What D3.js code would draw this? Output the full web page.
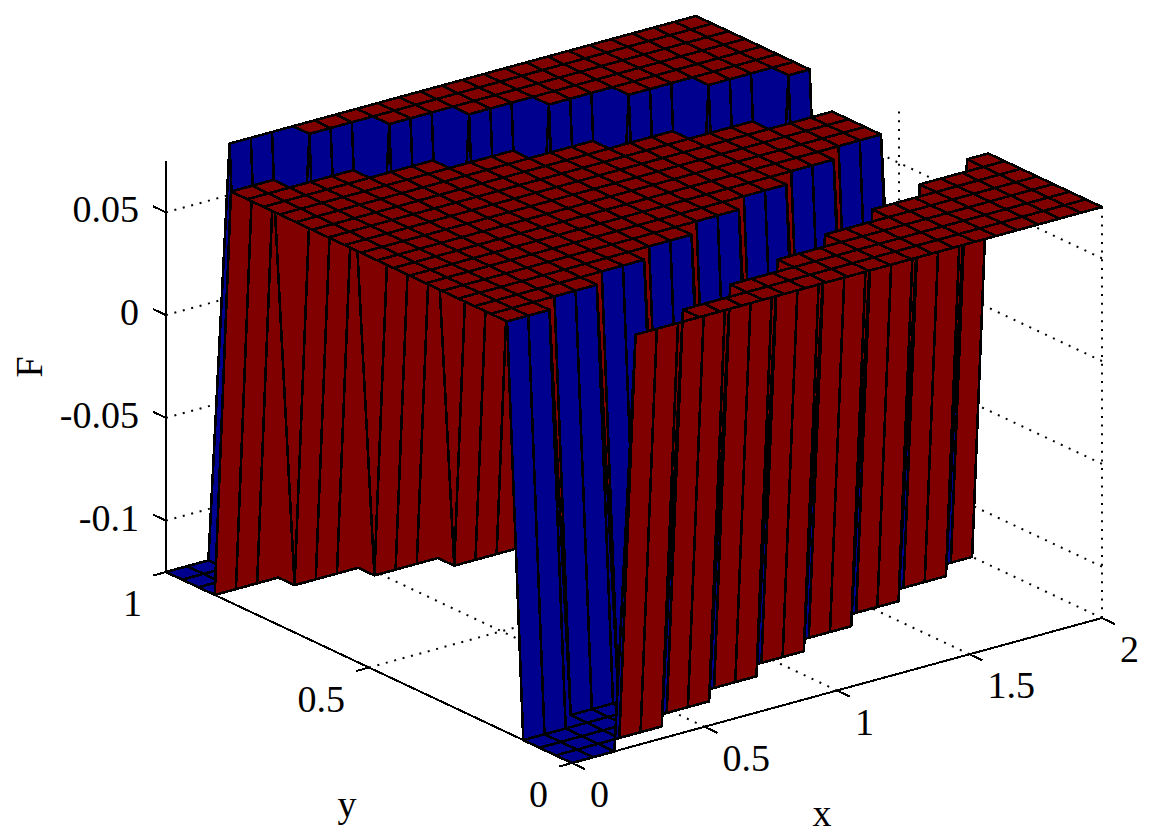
<!DOCTYPE html>
<html lang="en">

<head>
    <meta charset="UTF-8">
    <title>Surface F(x, y)</title>
    <script src="https://d3js.org/d3.v7.min.js"></script>
</head>
<style>
    html,
    body {
        margin: 0;
        padding: 0;
        background: #fff;
    }

    text {
        font-family: "Liberation Serif", "Times New Roman", serif;
        fill: #000;
    }
</style>

<body>
    <div id="chart"></div>
    <script>
        // grid nodes of the surface
        const xNodes = [0, 0.08, 0.16, 0.24, 0.32, 0.4, 0.48, 0.56, 0.64, 0.72, 0.8, 0.88, 0.96,
            1.04, 1.12, 1.2, 1.28, 1.36, 1.44, 1.52, 1.6, 1.68, 1.76, 1.84, 1.92, 2];
        const yNodes = [0, 0.04, 0.08, 0.12, 0.16, 0.2, 0.24, 0.28, 0.32, 0.36, 0.4, 0.44, 0.48,
            0.52, 0.56, 0.6, 0.64, 0.68, 0.72, 0.76, 0.8, 0.84, 0.88, 0.92, 0.96, 1];

        // the two levels of F
        const lowF = -0.125;
        const highF = 0.075;

        // one string per y node (y = 0 first), one char per x node: 1 = high, 0 = low
        const levelRows = [
            "00011111111111111111111111",
            "00000011111111111111111111",
            "00000000011111111111111111",
            "00000000000011111111111111",
            "11100000000000011111111111",
            "11111100000000000011111111",
            "11111111100000000000011111",
            "11111111111100000000000011",
            "11111111111111100000000000",
            "11111111111111111100000000",
            "11111111111111111111100000",
            "11111111111111111111111100",
            "11111111111111111111111100",
            "11111111111111111111111100",
            "11111111111111111111111100",
            "11111111111111111111100000",
            "11111111111111111100000000",
            "11111111111111100000000000",
            "11111111111100000000000011",
            "11111111100000000000011111",
            "11111100000000000011111111",
            "11100000000000011111111111",
            "00000000000011111111111111",
            "00000000011111111111111111",
            "00000011111111111111111111",
            "00011111111111111111111111"
        ];

        // axes
        const xTicks = [0, 0.5, 1, 1.5, 2];
        const yTicks = [0, 0.5, 1];
        const zTicks = [-0.1, -0.05, 0, 0.05];
        const xLabels = ["0", "0.5", "1", "1.5", "2"];
        const yLabels = ["0", "0.5", "1"];
        const zLabels = ["-0.1", "-0.05", "0", "0.05"];
        const zLimits = [-0.125, 0.075];

        const width = 1150;
        const height = 839;

        // oblique view: each data axis moves the point along its own screen direction
        const originX = 572;
        const originY = 763;
        const xToRight = d3.scaleLinear().domain([0, 2]).range([0, 530]);
        const xToUp = d3.scaleLinear().domain([0, 2]).range([0, -145]);
        const yToRight = d3.scaleLinear().domain([0, 1]).range([0, -406]);
        const yToUp = d3.scaleLinear().domain([0, 1]).range([0, -191]);
        const zToUp = d3.scaleLinear().domain(zLimits).range([0, -411]);

        function project(x, y, z) {
            return [originX + xToRight(x) + yToRight(y), originY + xToUp(x) + yToUp(y) + zToUp(z)];
        }

        const lineThrough = d3.line();

        const svg = d3.select('#chart')
            .append('svg')
            .attr('width', width)
            .attr('height', height);

        // dotted grid on the floor and the two back walls
        const gridLines = [];
        const zLow = zLimits[0];
        const zTop = zLimits[1];
        xTicks.forEach(x => {
            gridLines.push([project(x, 0, zLow), project(x, 1, zLow)]);
            gridLines.push([project(x, 1, zLow), project(x, 1, zTop)]);
        });
        yTicks.forEach(y => {
            gridLines.push([project(0, y, zLow), project(2, y, zLow)]);
            gridLines.push([project(2, y, zLow), project(2, y, zTop)]);
        });
        zTicks.forEach(z => {
            gridLines.push([project(0, 1, z), project(2, 1, z)]);
            gridLines.push([project(2, 0, z), project(2, 1, z)]);
        });

        svg.append('g')
            .selectAll('path')
            .data(gridLines)
            .enter()
            .append('path')
            .attr('d', d => lineThrough(d))
            .attr('fill', 'none')
            .attr('stroke', '#000')
            .attr('stroke-width', 2)
            .attr('stroke-dasharray', '2 6.7');

        // axis lines and ticks
        const axisLines = [
            [project(0, 0, zLow), project(2, 0, zLow)],
            [project(0, 0, zLow), project(0, 1, zLow)],
            [project(0, 1, zLow), project(0, 1, zTop)]
        ];
        xTicks.forEach(x => axisLines.push([project(x, 0, zLow), project(x, -0.032, zLow)]));
        yTicks.forEach(y => axisLines.push([project(0, y, zLow), project(-0.05, y, zLow)]));
        zTicks.forEach(z => axisLines.push([project(0, 1, z), project(0, 1.032, z)]));

        svg.append('g')
            .selectAll('path')
            .data(axisLines)
            .enter()
            .append('path')
            .attr('d', d => lineThrough(d))
            .attr('fill', 'none')
            .attr('stroke', '#000')
            .attr('stroke-width', 2)
            .attr('shape-rendering', 'crispEdges');

        // faces, far corner first so nearer faces paint over them
        const faceColor = d3.scaleThreshold().domain([0]).range(['#00008f', '#800000']);
        const level = (i, j) => levelRows[j][i] === '1' ? highF : lowF;
        const faces = [];
        for (let j = yNodes.length - 2; j >= 0; j--) {
            for (let i = xNodes.length - 2; i >= 0; i--) {
                faces.push({ i: i, j: j });
            }
        }

        svg.append('g')
            .attr('shape-rendering', 'crispEdges')
            .selectAll('path')
            .data(faces)
            .enter()
            .append('path')
            .attr('d', d => {
                const corners = [
                    [d.i, d.j],
                    [d.i + 1, d.j],
                    [d.i + 1, d.j + 1],
                    [d.i, d.j + 1]
                ].map(c => project(xNodes[c[0]], yNodes[c[1]], level(c[0], c[1])));
                return lineThrough(corners) + 'Z';
            })
            .attr('fill', d => faceColor(level(d.i, d.j)))
            .attr('stroke', '#000')
            .attr('stroke-width', 2.6)
            .attr('stroke-linejoin', 'round');

        // tick labels
        const labelSize = 38;

        function addLabel(point, text, anchor) {
            svg.append('text')
                .attr('x', point[0])
                .attr('y', point[1])
                .attr('text-anchor', anchor)
                .attr('font-size', labelSize)
                .text(text);
        }

        xTicks.forEach((x, k) => {
            const p = project(x, 0, zLow);
            addLabel([p[0] + 18, p[1] + 44], xLabels[k], 'start');
        });
        yTicks.forEach((y, k) => {
            const p = project(0, y, zLow);
            addLabel([p[0] - 24, p[1] + 44], yLabels[k], 'end');
        });
        zTicks.forEach((z, k) => {
            const p = project(0, 1, z);
            addLabel([p[0] - 27, p[1] + 10], zLabels[k], 'end');
        });

        // axis titles
        addLabel([822, 826], 'x', 'middle');
        addLabel([347, 817], 'y', 'middle');
        svg.append('text')
            .attr('transform', 'translate(42,367) rotate(-90)')
            .attr('text-anchor', 'middle')
            .attr('font-size', labelSize)
            .text('F');
    </script>
</body>

</html>
